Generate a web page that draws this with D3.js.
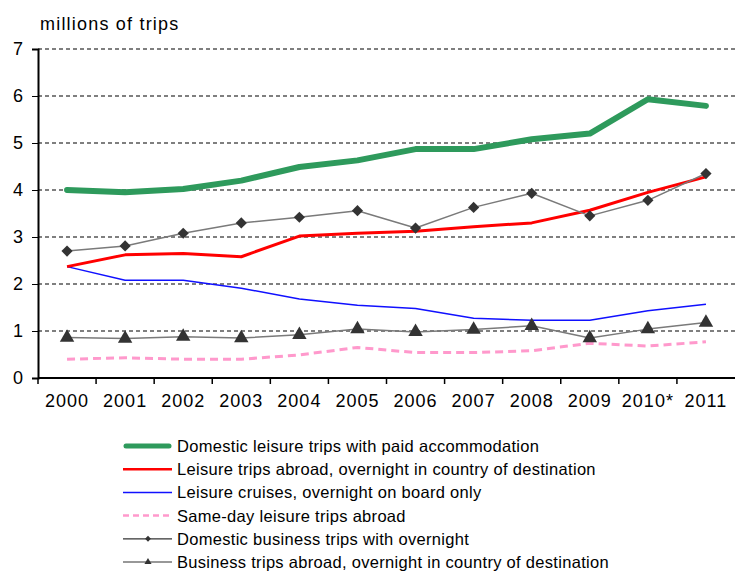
<!DOCTYPE html>
<html>
<head>
  <style>
    body { margin: 0; background: #fff; }
    text { font-family: Arial, "Liberation Sans", sans-serif; fill: #000; }
  </style>
</head>
<body>
  <script src="https://d3js.org/d3.v7.min.js"></script>
  <script>
    const years = ['2000', '2001', '2002', '2003', '2004', '2005', '2006', '2007', '2008', '2009', '2010*', '2011'];
    const yTicks = [0, 1, 2, 3, 4, 5, 6, 7];

    const domesticLeisure = [4.0, 3.95, 4.02, 4.2, 4.49, 4.63, 4.87, 4.87, 5.08, 5.2, 5.93, 5.79];
    const leisureAbroad   = [2.37, 2.62, 2.65, 2.58, 3.02, 3.08, 3.12, 3.22, 3.3, 3.57, 3.95, 4.28];
    const leisureCruises  = [2.37, 2.08, 2.08, 1.91, 1.68, 1.55, 1.48, 1.27, 1.23, 1.23, 1.43, 1.57];
    const sameDayAbroad   = [0.4, 0.43, 0.4, 0.4, 0.49, 0.65, 0.54, 0.54, 0.58, 0.74, 0.68, 0.77];
    const domesticBusiness = [2.7, 2.81, 3.08, 3.3, 3.42, 3.56, 3.19, 3.63, 3.93, 3.45, 3.78, 4.35];
    const businessAbroad  = [0.86, 0.84, 0.88, 0.85, 0.92, 1.04, 0.98, 1.03, 1.11, 0.85, 1.04, 1.18];

    const series = [
      { name: 'Domestic leisure trips with paid accommodation', values: domesticLeisure,
        color: '#2e9a5c', width: 6, dash: null, marker: null },
      { name: 'Leisure trips abroad, overnight in country of destination', values: leisureAbroad,
        color: '#ff0000', width: 3, dash: null, marker: null },
      { name: 'Leisure cruises, overnight on board only', values: leisureCruises,
        color: '#1010ff', width: 1.5, dash: null, marker: null },
      { name: 'Same-day leisure trips abroad', values: sameDayAbroad,
        color: '#ff99cc', width: 3, dash: '8,5', marker: null },
      { name: 'Domestic business trips with overnight', values: domesticBusiness,
        color: '#7a7a7a', width: 1.5, dash: null, marker: 'diamond' },
      { name: 'Business trips abroad, overnight in country of destination', values: businessAbroad,
        color: '#7a7a7a', width: 1.5, dash: null, marker: 'triangle' }
    ];

    const width = 737, height = 572;
    const margin = { top: 49, right: 2, bottom: 194, left: 38 };

    const svg = d3.select('body').append('svg')
      .attr('width', width)
      .attr('height', height);

    const x = d3.scaleBand()
      .domain(years)
      .range([margin.left, width - margin.right]);

    const y = d3.scaleLinear()
      .domain([0, 7])
      .range([height - margin.bottom, margin.top]);

    // grid lines
    svg.append('g')
      .selectAll('line')
      .data(yTicks.filter(d => d > 0))
      .join('line')
      .attr('x1', margin.left)
      .attr('x2', width - margin.right)
      .attr('y1', d => y(d))
      .attr('y2', d => y(d))
      .attr('stroke', '#000')
      .attr('stroke-width', 1.2)
      .attr('stroke-dasharray', '4,3');

    // y axis
    const yAxis = svg.append('g')
      .attr('transform', `translate(${margin.left},0)`)
      .call(d3.axisLeft(y).tickValues(yTicks).tickFormat(d3.format('d')).tickSize(6).tickPadding(8));
    yAxis.select('.domain').attr('stroke-width', 2);
    yAxis.selectAll('text').style('font-size', '18px').style('letter-spacing', '1px');

    // x axis: ticks at category boundaries
    const xAxisG = svg.append('g')
      .attr('transform', `translate(0,${y(0)})`);
    xAxisG.append('line')
      .attr('x1', margin.left).attr('x2', width - margin.right)
      .attr('stroke', '#000').attr('stroke-width', 2);
    xAxisG.selectAll('.tick')
      .data(years)
      .join('line')
      .attr('x1', d => x(d)).attr('x2', d => x(d))
      .attr('y1', 0).attr('y2', 6)
      .attr('stroke', '#000').attr('stroke-width', 1.5);
    xAxisG.selectAll('.lbl')
      .data(years)
      .join('text')
      .attr('x', d => x(d) + x.bandwidth() / 2)
      .attr('y', 29)
      .attr('text-anchor', 'middle')
      .style('font-size', '18px')
      .style('letter-spacing', '1px')
      .text(d => d);

    svg.append('text')
      .attr('x', 40)
      .attr('y', 30)
      .style('font-size', '18px')
      .style('letter-spacing', '1.2px')
      .text('millions of trips');

    const line = d3.line()
      .x((d, i) => x(years[i]) + x.bandwidth() / 2)
      .y(d => y(d));

    const diamond = d3.symbol().type(d3.symbolDiamond2).size(80);
    const triangle = d3.symbol().type(d3.symbolTriangle).size(90);

    // draw in reverse so the thick lines sit under the marker lines
    const plotOrder = [3, 2, 1, 5, 4, 0];
    plotOrder.forEach(k => {
      const s = series[k];
      svg.append('path')
        .datum(s.values)
        .attr('d', line)
        .attr('fill', 'none')
        .attr('stroke', s.color)
        .attr('stroke-width', s.width)
        .attr('stroke-linecap', k === 0 ? 'round' : 'butt')
        .attr('stroke-linejoin', 'round')
        .attr('stroke-dasharray', s.dash);
      if (s.marker) {
        svg.append('g')
          .selectAll('path')
          .data(s.values)
          .join('path')
          .attr('transform', (d, i) => `translate(${x(years[i]) + x.bandwidth() / 2},${y(d)})`)
          .attr('d', s.marker === 'diamond' ? diamond : triangle)
          .attr('fill', '#333');
      }
    });

    // legend
    const legend = svg.append('g').attr('transform', 'translate(123,446)');
    const rowH = 23.2;
    series.forEach((s, i) => {
      const g = legend.append('g').attr('transform', `translate(0,${i * rowH})`);
      g.append('line')
        .attr('x1', i === 0 ? 3 : 0).attr('x2', i === 0 ? 46 : 49)
        .attr('stroke', s.color)
        .attr('stroke-width', i === 0 ? 5 : Math.min(s.width, 2.5))
        .attr('stroke-linecap', i === 0 ? 'round' : 'butt')
        .attr('stroke-dasharray', s.dash ? '6,4' : null);
      if (s.marker) {
        g.select('line').attr('stroke', '#333').attr('stroke-width', 1.2);
        g.append('path')
          .attr('transform', 'translate(25,0)')
          .attr('d', d3.symbol().type(s.marker === 'diamond' ? d3.symbolDiamond2 : d3.symbolTriangle).size(22))
          .attr('fill', '#333');
      }
      g.append('text')
        .attr('x', 54)
        .attr('y', 6)
        .style('font-size', '16.5px')
        .style('letter-spacing', '0.3px')
        .text(s.name);
    });
  </script>
</body>
</html>
